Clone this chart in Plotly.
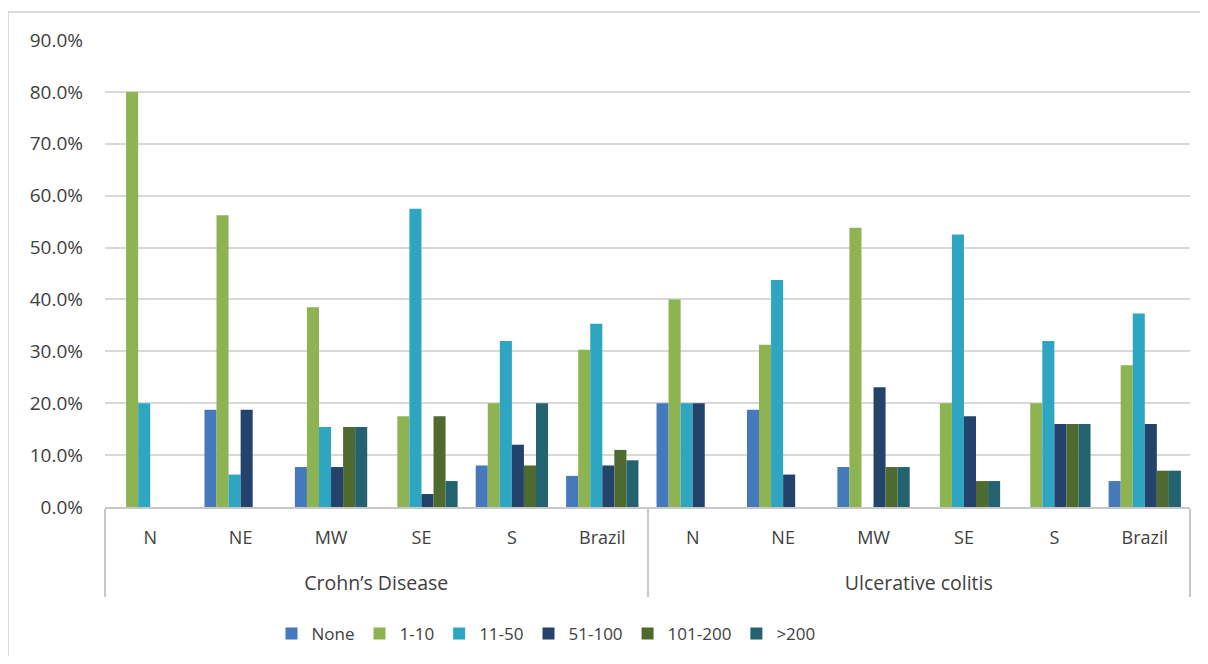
import plotly.graph_objects as go

diseases = ["Crohn’s Disease"] * 6 + ["Ulcerative colitis"] * 6
regions = ["N", "NE", "MW", "SE", "S", "Brazil"] * 2

series_names = ["None", "1-10", "11-50", "51-100", "101-200", ">200"]
none_vals = [0, 18.75, 7.7, 0, 8.0, 6.0, 20.0, 18.75, 7.7, 0, 0, 5.0]
v_1_10 = [80.0, 56.25, 38.5, 17.5, 20.0, 30.3, 40.0, 31.25, 53.8, 20.0, 20.0, 27.3]
v_11_50 = [20.0, 6.25, 15.4, 57.5, 32.0, 35.3, 20.0, 43.75, 0, 52.5, 32.0, 37.3]
v_51_100 = [0, 18.75, 7.7, 2.5, 12.0, 8.0, 20.0, 6.25, 23.1, 17.5, 16.0, 16.0]
v_101_200 = [0, 0, 15.4, 17.5, 8.0, 11.0, 0, 0, 7.7, 5.0, 16.0, 7.0]
v_gt_200 = [0, 0, 15.4, 5.0, 20.0, 9.0, 0, 0, 7.7, 5.0, 16.0, 7.0]
series_values = [none_vals, v_1_10, v_11_50, v_51_100, v_101_200, v_gt_200]
colors = ["#4678BC", "#8DB352", "#2EA6C1", "#23436C", "#4F6A2F", "#23626F"]

FONT = "Open Sans"
TXT = "#404040"

W, H = 1192, 648
L, R, T, B = 97, 10, 32, 149
PW, PH = W - L - R, H - T - B

group_labels = ["<br><span style='font-size:19.5px'>" + d + "</span>" for d in diseases]
region_labels = ["<span style='font-size:18px'>" + r + "</span>" for r in regions]

fig = go.Figure()
for name, vals, col in zip(series_names, series_values, colors):
    fig.add_trace(go.Bar(
        x=[group_labels, region_labels],
        y=[v / 100 for v in vals],
        name=name,
        marker=dict(color=col, line=dict(width=0)),
    ))

fig.update_layout(
    width=W, height=H,
    margin=dict(l=L, r=R, t=T, b=B, autoexpand=False),
    paper_bgcolor="white", plot_bgcolor="white",
    barmode="group", bargap=0.2, bargroupgap=0,
    font=dict(family=FONT, size=17, color=TXT),
    legend=dict(orientation="h", x=(546 - 105) / PW, xanchor="center",
                y=-(626 - (H - B)) / PH, yanchor="middle",
                font=dict(family=FONT, size=17, color=TXT), itemwidth=30,
                traceorder="normal"),
    showlegend=True,
)
fig.update_yaxes(
    range=[0, 0.9], dtick=0.1, tickformat=".1%",
    showgrid=True, gridcolor="#d9d9d9", gridwidth=1.5,
    zeroline=False, showline=False, ticks="", ticklabelstandoff=21,
    tickfont=dict(family=FONT, size=19, color=TXT), automargin=False,
)
fig.update_xaxes(
    type="multicategory",
    showline=True, linecolor="#c8c8c8", linewidth=1.5,
    ticks="", ticklabelstandoff=9, automargin=False,
    showdividers=True, dividercolor="#c8c8c8", dividerwidth=1.5,
    tickfont=dict(family=FONT, size=22, color=TXT),
    showgrid=False,
)
fig.add_shape(type="rect", xref="paper", yref="paper",
              x0=-L / PW, x1=(W + 20 - L) / PW,
              y0=-(B + 20) / PH, y1=1 + 28 / PH,
              line=dict(color="#d0d0d0", width=1.5), layer="below")

fig.write_html("out.html")
